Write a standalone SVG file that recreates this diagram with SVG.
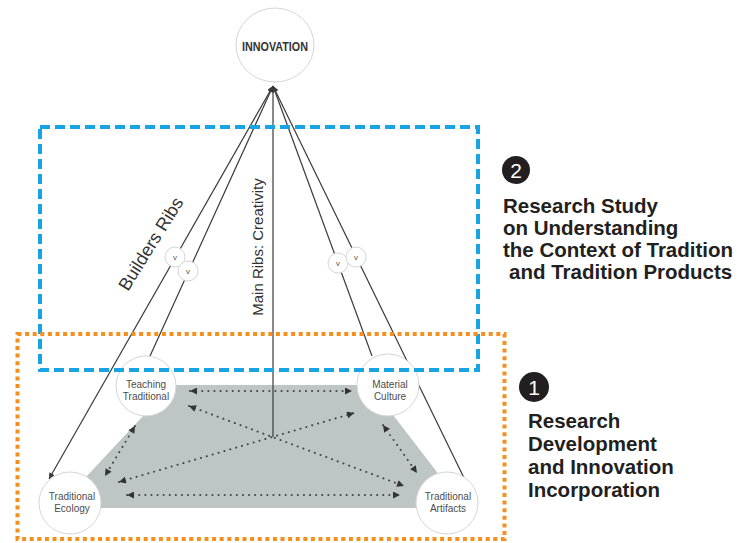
<svg xmlns="http://www.w3.org/2000/svg" width="739" height="543" viewBox="0 0 739 543">
<defs>
<style>
.rib{stroke:#3a3a3a;stroke-width:1.2;fill:none}
.dot{stroke:#444;stroke-width:2;stroke-dasharray:0.1 6;stroke-linecap:round;fill:none}
.node{fill:#fff;stroke:#d6d6d6;stroke-width:1}
.lbl{font-family:"Liberation Sans",Arial,sans-serif;font-size:10px;fill:#4d4d4d;text-anchor:middle}
.v{font-family:"Liberation Sans",Arial,sans-serif;font-size:8px;fill:#555;text-anchor:middle}
.big{font-family:"Liberation Sans",Arial,sans-serif;font-size:20.5px;font-weight:bold;fill:#231f20}
.num{font-family:"Liberation Sans",Arial,sans-serif;font-size:21px;fill:#fff;text-anchor:middle}
.rlbl{font-family:"Liberation Sans",Arial,sans-serif;fill:#333;text-anchor:middle}
</style>
<marker id="ah" viewBox="0 0 10 10" refX="10" refY="5" markerUnits="userSpaceOnUse" markerWidth="8" markerHeight="6" orient="auto-start-reverse">
<path d="M0,0 L10,5 L0,10 Z" fill="#3a3a3a"/>
</marker>
<marker id="dh" viewBox="0 0 10 10" refX="10" refY="5" markerUnits="userSpaceOnUse" markerWidth="8" markerHeight="7" orient="auto-start-reverse">
<path d="M0,0 L10,5 L0,10 Z" fill="#333"/>
</marker>
</defs>
<rect width="739" height="543" fill="#fff"/>

<polygon points="172,385 370,385 440,476 440,508 92,508 85,478" fill="#bec6c5"/>

<g id="connectors">
<line class="dot" x1="190" y1="391" x2="352" y2="391" marker-start="url(#dh)" marker-end="url(#dh)"/>
<line class="dot" x1="189" y1="406" x2="404" y2="486" marker-start="url(#dh)" marker-end="url(#dh)"/>
<line class="dot" x1="119" y1="482" x2="354" y2="413" marker-start="url(#dh)" marker-end="url(#dh)"/>
<line class="dot" x1="135" y1="426" x2="105" y2="476" marker-start="url(#dh)" marker-end="url(#dh)"/>
<line class="dot" x1="383" y1="425" x2="417" y2="473" marker-start="url(#dh)" marker-end="url(#dh)"/>
<line class="dot" x1="127" y1="495" x2="400" y2="495" marker-start="url(#dh)" marker-end="url(#dh)"/>

<line class="rib" x1="273" y1="86" x2="49" y2="479" marker-start="url(#ah)" marker-end="url(#ah)"/>
<line class="rib" x1="273" y1="86" x2="150" y2="356" marker-start="url(#ah)"/>
<line class="rib" x1="273" y1="86" x2="273" y2="437" marker-start="url(#ah)"/>
<line class="rib" x1="273" y1="86" x2="372" y2="356" marker-start="url(#ah)"/>
<line class="rib" x1="273" y1="86" x2="466" y2="482" marker-start="url(#ah)"/>
</g>

<g id="v1"><circle class="node" cx="175" cy="257" r="10"/><text class="v" x="175" y="260">v</text></g>
<g id="v2"><circle class="node" cx="188" cy="271" r="10"/><text class="v" x="188" y="274">v</text></g>
<g id="v3"><circle class="node" cx="338" cy="263" r="10"/><text class="v" x="338" y="266">v</text></g>
<g id="v4"><circle class="node" cx="356" cy="257" r="10"/><text class="v" x="356" y="260">v</text></g>

<g id="innovation">
<ellipse class="node" cx="275" cy="45" rx="39" ry="37"/>
<text x="275" y="51" font-family="'Liberation Sans',Arial,sans-serif" font-weight="bold" font-size="13" fill="#333" text-anchor="middle" textLength="66" lengthAdjust="spacingAndGlyphs">INNOVATION</text>
</g>

<g id="teaching">
<circle class="node" cx="146" cy="386" r="30"/>
<text class="lbl" x="146" y="388">Teaching</text>
<text class="lbl" x="146" y="400">Traditional</text>
</g>
<g id="material">
<circle class="node" cx="388" cy="385" r="31"/>
<text class="lbl" x="390" y="388">Material</text>
<text class="lbl" x="390" y="400">Culture</text>
</g>
<g id="ecology">
<circle class="node" cx="70" cy="503" r="31"/>
<text class="lbl" x="72" y="500">Traditional</text>
<text class="lbl" x="72" y="512">Ecology</text>
</g>
<g id="artifacts">
<circle class="node" cx="447" cy="503" r="31"/>
<text class="lbl" x="448" y="500">Traditional</text>
<text class="lbl" x="448" y="512">Artifacts</text>
</g>

<text class="rlbl" font-size="18" transform="translate(156,247) rotate(-58)">Builders Ribs</text>
<text class="rlbl" font-size="15" transform="translate(263,247) rotate(-90)">Main Ribs: Creativity</text>

<rect x="40" y="127" width="438" height="243" fill="none" stroke="#18a4e4" stroke-width="4" stroke-dasharray="10 5"/>
<rect x="17.5" y="334" width="487" height="205" fill="none" stroke="#f5901e" stroke-width="4" stroke-dasharray="4 3.6"/>

<g id="label2">
<circle cx="516" cy="170" r="14" fill="#231f20"/>
<text class="num" x="516" y="178">2</text>
<text class="big" x="503" y="213">Research Study</text>
<text class="big" x="503" y="235">on Understanding</text>
<text class="big" x="503" y="257">the Context of Tradition</text>
<text class="big" x="509" y="279">and Tradition Products</text>
</g>
<g id="label1">
<circle cx="534" cy="387" r="15" fill="#231f20"/>
<text class="num" x="534" y="395">1</text>
<text class="big" x="528" y="428">Research</text>
<text class="big" x="528" y="451">Development</text>
<text class="big" x="528" y="474">and Innovation</text>
<text class="big" x="528" y="497">Incorporation</text>
</g>
</svg>
